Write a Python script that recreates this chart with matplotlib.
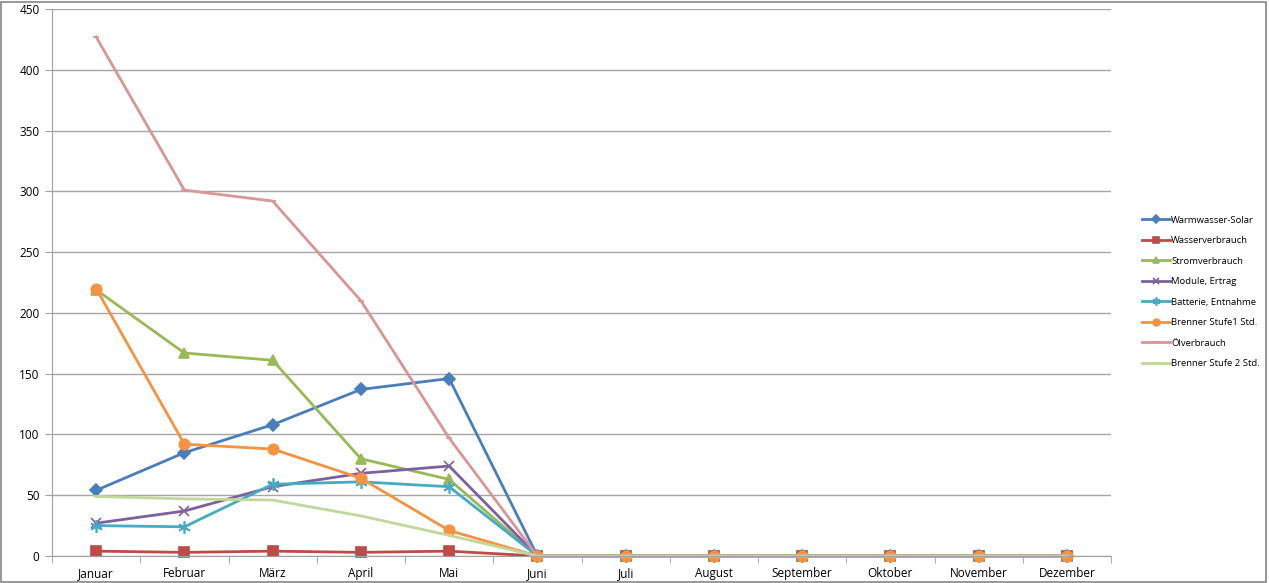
import matplotlib.pyplot as plt
from matplotlib.patches import Rectangle

plt.rcParams['font.family'] = ['Open Sans', 'DejaVu Sans']

months = ["Januar", "Februar", "März", "April", "Mai", "Juni", "Juli",
          "August", "September", "Oktober", "November", "Dezember"]

warmwasser = [54, 85, 108, 137, 146, 0, 0, 0, 0, 0, 0, 0]
wasser = [4, 3, 4, 3, 4, 0, 0, 0, 0, 0, 0, 0]
strom = [219, 167, 161, 80, 63, 0, 0, 0, 0, 0, 0, 0]
module = [27, 37, 57, 68, 74, 0, 0, 0, 0, 0, 0, 0]
batterie = [25, 24, 59, 61, 57, 0, 0, 0, 0, 0, 0, 0]
brenner1 = [220, 92, 88, 64, 21, 0, 0, 0, 0, 0, 0, 0]
oel = [427, 301, 292, 210, 97, 0, 0, 0, 0, 0, 0, 0]
brenner2 = [49, 47, 46, 33, 17, 0, 0, 0, 0, 0, 0, 0]

series = [
    ("Warmwasser-Solar", warmwasser, "#4A7EBB", "D", 6),
    ("Wasserverbrauch", wasser, "#BE4B48", "s", 6.5),
    ("Stromverbrauch", strom, "#98B954", "^", 7.5),
    ("Module, Ertrag", module, "#7D60A0", "x", 7.5),
    ("Batterie, Entnahme", batterie, "#46AAC5", (6, 2, 0), 9),
    ("Brenner Stufe1 Std.", brenner1, "#F69240", "o", 7.5),
    ("Ölverbrauch", oel, "#D99694", "_", 5),
    ("Brenner Stufe 2 Std.", brenner2, "#C3D69B", "_", 5),
]

fig = plt.figure(figsize=(12.69, 5.83), dpi=100)
ax = fig.add_axes([52 / 1269, 27 / 583, (1111 - 52) / 1269, (556 - 9) / 583])

x = list(range(len(months)))
for name, vals, color, marker, ms in series:
    ax.plot(x, vals, color=color, linewidth=2, marker=marker, markersize=ms,
            markeredgewidth=1.2, markerfacecolor=color, markeredgecolor=color,
            label=name, clip_on=False)

ax.set_xlim(-0.5, 11.5)
ax.set_ylim(0, 450)
ax.set_yticks(range(0, 451, 50))
ax.set_xticks(x)
ax.set_xticklabels(months)
ax.set_xticks([i - 0.5 for i in range(13)], minor=True)
ax.tick_params(axis='x', which='major', length=0, pad=8, labelsize=8.5)
ax.tick_params(axis='x', which='minor', length=5, color='#A0A0A0', direction='out')
ax.tick_params(axis='y', length=5, color='#A0A0A0', labelsize=8.5, pad=4)
ax.grid(axis='y', color='#A6A6A6', linewidth=1)
ax.set_axisbelow(True)

for side in ['top', 'right']:
    ax.spines[side].set_visible(False)
for side in ['left', 'bottom']:
    ax.spines[side].set_color('#A0A0A0')

fig.legend(loc='upper left', bbox_to_anchor=(1133 / 1269, 1 - 207 / 583),
           frameon=False, fontsize=6.8, labelspacing=1.22, handlelength=3.0,
           handletextpad=0.15, markerscale=0.65)

fig.patches.append(Rectangle((0.001, 0.002), 0.997, 0.995, transform=fig.transFigure,
                             fill=False, edgecolor='#868686', linewidth=1.2))

fig.savefig("out.png", dpi=100)
